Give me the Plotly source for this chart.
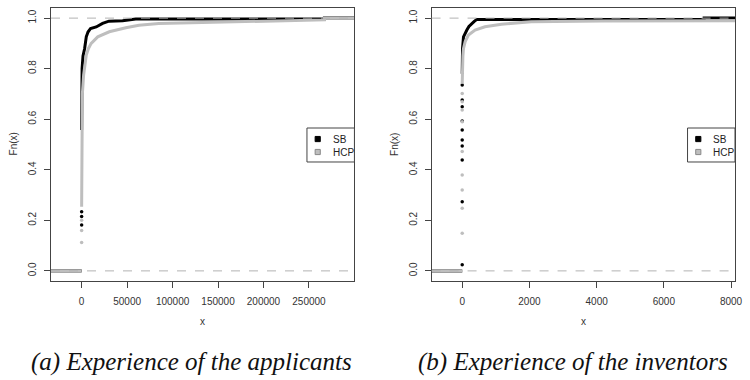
import plotly.graph_objects as go

# ---------------- data ----------------
# Panel (a): experience of the applicants
a_sb_x = [0, 0, 500, 1500, 3300, 5100, 7000, 9800, 16000, 23000, 30000, 45000, 59500, 267000, 267000, 300000]
a_sb_y = [0.557, 0.72, 0.80, 0.85, 0.88, 0.926, 0.945, 0.959, 0.965, 0.979, 0.988, 0.99, 0.996, 0.996, 1.0, 1.0]
a_sb_dots = [0.182, 0.215, 0.234]

a_hcp_x = [0, 0, 800, 2170, 3500, 5100, 7500, 10500, 17700, 30400, 48600, 63000, 84800,
           135500, 170000, 215000, 267000, 267000, 300000]
a_hcp_y = [0.254, 0.62, 0.70, 0.775, 0.82, 0.854, 0.88, 0.9, 0.926, 0.946, 0.962, 0.972, 0.979,
           0.983, 0.987, 0.99, 0.993, 0.999, 0.999]
a_hcp_dots = [0.112, 0.16, 0.2]

# Panel (b): experience of the inventors
b_sb_x = [0, 0, 10, 38, 80, 138, 200, 285, 350, 432, 7200, 7200, 8200]
b_sb_y = [0.78, 0.84, 0.88, 0.926, 0.94, 0.953, 0.967, 0.979, 0.986, 0.995, 0.995, 1.0, 1.0]
b_sb_dots = [0.024, 0.274, 0.439, 0.494, 0.518, 0.557, 0.593, 0.649, 0.676, 0.735]

b_hcp_x = [0, 0, 20, 38, 88, 185, 382, 676, 1168, 2050, 4150, 8200]
b_hcp_y = [0.74, 0.80, 0.85, 0.88, 0.907, 0.933, 0.953, 0.966, 0.976, 0.986, 0.989, 0.99]
b_hcp_dots = [0.149, 0.248, 0.32, 0.379, 0.472, 0.59, 0.636, 0.669, 0.702]

a_xticks = [0, 50000, 100000, 150000, 200000, 250000]
b_xticks = [0, 2000, 4000, 6000, 8000]
yticks = [0.0, 0.2, 0.4, 0.6, 0.8, 1.0]
a_xrange = [-33700, 300000]
b_xrange = [-912, 8118]

series_names = ["SB", "HCP"]
captions = ["(a) Experience of the applicants", "(b) Experience of the inventors"]

# ---------------- styling ----------------
BLACK = "#000000"
GRAY = "#bebebe"
AXC = "#444444"
FONT = "Liberation Sans, Arial, sans-serif"

fig = go.Figure()


def add_panel(xs, ys, dots, color, xname, yname, xmin):
    # F = 0 below the first observation
    fig.add_trace(go.Scatter(x=[xmin, 0], y=[0, 0], mode="lines", line=dict(color=color, width=3),
                             xaxis=xname, yaxis=yname, showlegend=False, hoverinfo="skip"))
    fig.add_trace(go.Scatter(x=[0] * len(dots), y=dots, mode="markers",
                             marker=dict(color=color, size=3.5, line=dict(width=0)),
                             xaxis=xname, yaxis=yname, showlegend=False))
    fig.add_trace(go.Scatter(x=xs, y=ys, mode="lines", line=dict(color=color, width=3),
                             xaxis=xname, yaxis=yname, showlegend=False))


add_panel(a_sb_x, a_sb_y, a_sb_dots, BLACK, "x", "y", a_xrange[0])
add_panel(a_hcp_x, a_hcp_y, a_hcp_dots, GRAY, "x", "y", a_xrange[0])
add_panel(b_sb_x, b_sb_y, b_sb_dots, BLACK, "x2", "y2", b_xrange[0])
add_panel(b_hcp_x, b_hcp_y, b_hcp_dots, GRAY, "x2", "y2", b_xrange[0])

axis_common = dict(showgrid=False, zeroline=False, showline=True, linecolor=AXC, linewidth=1,
                   mirror=True, ticks="outside", ticklen=6, tickcolor=AXC,
                   ticklabeloverflow="allow",
                   tickfont=dict(family=FONT, size=10, color="#333333"))

fig.update_layout(
    width=750, height=380,
    margin=dict(l=51, r=7, t=8, b=99),
    paper_bgcolor="white", plot_bgcolor="white",
    showlegend=False,
    xaxis=dict(domain=[0, 0.4436], range=a_xrange, tickvals=a_xticks,
               ticktext=[str(v) for v in a_xticks], ticklabelstandoff=5, **axis_common),
    yaxis=dict(domain=[0, 1], range=[-0.04, 1.04], tickvals=yticks,
               ticktext=["%.1f" % v for v in yticks], tickangle=-90, anchor="x",
               ticklabelstandoff=4, **axis_common),
    xaxis2=dict(domain=[0.5564, 1], range=b_xrange, tickvals=b_xticks,
                ticktext=[str(v) for v in b_xticks], anchor="y2", ticklabelstandoff=5, **axis_common),
    yaxis2=dict(domain=[0, 1], range=[-0.04, 1.04], tickvals=yticks,
                ticktext=["%.1f" % v for v in yticks], tickangle=-90, anchor="x2",
                ticklabelstandoff=4, **axis_common),
)

shapes = []
annotations = []
cap_x = [(193 - 51) / 692, (579 - 51) / 692]
fn_xs = [-0.0549, 0.5014]
for i, (ya, xdom_ref, ydom_ref) in enumerate([("y", "x domain", "y domain"),
                                               ("y2", "x2 domain", "y2 domain")]):
    # dashed reference lines at 0 and 1
    for h in (0, 1):
        shapes.append(dict(type="line", xref=xdom_ref, yref=ya, x0=0, x1=1, y0=h, y1=h,
                           line=dict(color="#b3b3b3", width=1, dash="dash"), layer="above"))
    # legend box
    shapes.append(dict(type="rect", xref=xdom_ref, yref=ydom_ref, x0=0.8436, x1=1.0,
                       y0=0.4359, y1=0.5604, line=dict(color=AXC, width=1), fillcolor="white",
                       layer="above"))
    for yc, col, bcol in [(0.520, BLACK, BLACK), (0.4725, GRAY, "#888888")]:
        shapes.append(dict(type="rect", xref=xdom_ref, yref=ydom_ref,
                           x0=0.879 - 0.0085, x1=0.879 + 0.0085,
                           y0=yc - 0.0095, y1=yc + 0.0095,
                           line=dict(color=bcol, width=1), fillcolor=col, layer="above"))
    for yc, name in [(0.520, series_names[0]), (0.4725, series_names[1])]:
        annotations.append(dict(text=name, xref=xdom_ref, yref=ydom_ref, x=0.922, y=yc,
                                xanchor="left", yanchor="middle", showarrow=False,
                                font=dict(family=FONT, size=10, color="#222222")))
    # axis titles
    annotations.append(dict(text="x", xref=xdom_ref, yref="paper", x=0.5, y=-0.150,
                            xanchor="center", yanchor="middle", showarrow=False,
                            font=dict(family=FONT, size=10, color="#333333")))
    annotations.append(dict(text="Fn(x)", xref="paper", yref="paper", x=fn_xs[i], y=0.5018,
                            textangle=-90, xanchor="center", yanchor="middle", showarrow=False,
                            font=dict(family=FONT, size=10, color="#333333")))
    # caption
    annotations.append(dict(text="<i>%s</i>" % captions[i], xref="paper", yref="paper",
                            x=cap_x[i], y=-0.2967, xanchor="center", yanchor="middle",
                            showarrow=False,
                            font=dict(family="Liberation Serif, Times New Roman, serif",
                                      size=25, color="#111111")))

fig.update_layout(shapes=shapes, annotations=annotations)
fig.write_html("out.html")
